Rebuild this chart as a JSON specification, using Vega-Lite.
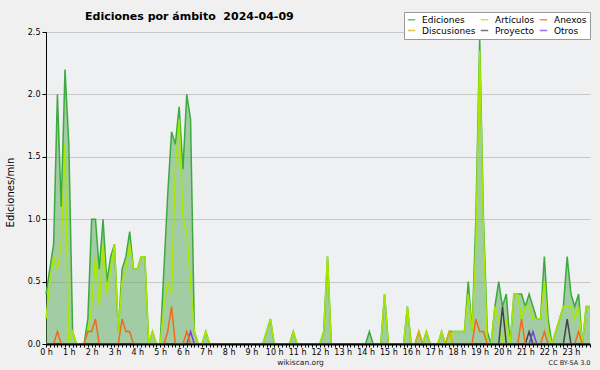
{
"$schema": "https://vega.github.io/schema/vega-lite/v6.json",
"autosize": "none",
"width": 544,
"height": 312,
"padding": {"left": 46, "top": 32, "right": 10, "bottom": 26},
"background": "#F0F0F0",
"config": {"view": {"fill": "#EEF0F2", "stroke": null}, "font": "DejaVu Sans"},
"title": {"text": "Ediciones por ámbito \u00a02024-04-09", "anchor": "start", "frame": "group", "dx": 39, "dy": 12, "offset": -7, "baseline": "alphabetic", "font": "DejaVu Sans", "fontSize": 11, "fontWeight": "bold", "color": "#000000"},
"data": {"values": [
{"m":0,"ed":0.4,"art":0.2,"anx":0,"dis":0,"pro":0,"otr":0},
{"m":10,"ed":0.6,"art":0.5,"anx":0,"dis":0,"pro":0,"otr":0},
{"m":20,"ed":0.8,"art":0.7,"anx":0,"dis":0,"pro":0,"otr":0},
{"m":30,"ed":2.0,"art":0.6,"anx":0.1,"dis":0,"pro":0,"otr":0},
{"m":40,"ed":1.1,"art":0.8,"anx":0,"dis":0,"pro":0,"otr":0},
{"m":50,"ed":2.2,"art":1.6,"anx":0,"dis":0,"pro":0,"otr":0},
{"m":60,"ed":1.6,"art":0,"anx":0,"dis":0,"pro":0,"otr":0},
{"m":70,"ed":0.1,"art":0.1,"anx":0,"dis":0,"pro":0,"otr":0},
{"m":80,"ed":0,"art":0,"anx":0,"dis":0,"pro":0,"otr":0},
{"m":90,"ed":0,"art":0,"anx":0,"dis":0,"pro":0,"otr":0},
{"m":100,"ed":0,"art":0,"anx":0,"dis":0,"pro":0,"otr":0},
{"m":110,"ed":0.2,"art":0.1,"anx":0.1,"dis":0,"pro":0,"otr":0},
{"m":120,"ed":1.0,"art":0.3,"anx":0.1,"dis":0,"pro":0,"otr":0},
{"m":130,"ed":1.0,"art":0.7,"anx":0.2,"dis":0,"pro":0,"otr":0},
{"m":140,"ed":0.6,"art":0.3,"anx":0,"dis":0,"pro":0,"otr":0},
{"m":150,"ed":1.0,"art":0.8,"anx":0,"dis":0,"pro":0,"otr":0},
{"m":160,"ed":0.5,"art":0.4,"anx":0,"dis":0,"pro":0,"otr":0},
{"m":170,"ed":0.7,"art":0.6,"anx":0,"dis":0,"pro":0,"otr":0},
{"m":180,"ed":0.8,"art":0.8,"anx":0,"dis":0,"pro":0,"otr":0},
{"m":190,"ed":0.1,"art":0.1,"anx":0,"dis":0,"pro":0,"otr":0},
{"m":200,"ed":0.6,"art":0.5,"anx":0.2,"dis":0,"pro":0,"otr":0},
{"m":210,"ed":0.7,"art":0.6,"anx":0.1,"dis":0,"pro":0,"otr":0},
{"m":220,"ed":0.9,"art":0.8,"anx":0.1,"dis":0,"pro":0,"otr":0},
{"m":230,"ed":0.6,"art":0.6,"anx":0,"dis":0,"pro":0,"otr":0},
{"m":240,"ed":0.6,"art":0.6,"anx":0,"dis":0,"pro":0,"otr":0},
{"m":250,"ed":0.7,"art":0.7,"anx":0,"dis":0,"pro":0,"otr":0},
{"m":260,"ed":0.7,"art":0.7,"anx":0,"dis":0,"pro":0,"otr":0},
{"m":270,"ed":0,"art":0,"anx":0,"dis":0,"pro":0,"otr":0},
{"m":280,"ed":0.1,"art":0.1,"anx":0,"dis":0,"pro":0,"otr":0},
{"m":290,"ed":0,"art":0,"anx":0,"dis":0,"pro":0,"otr":0},
{"m":300,"ed":0,"art":0,"anx":0,"dis":0,"pro":0,"otr":0},
{"m":310,"ed":0.6,"art":0.3,"anx":0,"dis":0,"pro":0,"otr":0},
{"m":320,"ed":1.2,"art":0.5,"anx":0.1,"dis":0,"pro":0,"otr":0},
{"m":330,"ed":1.7,"art":0.4,"anx":0.3,"dis":0,"pro":0,"otr":0},
{"m":340,"ed":1.6,"art":1.4,"anx":0,"dis":0,"pro":0,"otr":0},
{"m":350,"ed":1.9,"art":1.8,"anx":0,"dis":0,"pro":0,"otr":0},
{"m":360,"ed":1.4,"art":1.0,"anx":0,"dis":0,"pro":0,"otr":0},
{"m":370,"ed":2.0,"art":0.9,"anx":0.1,"dis":0,"pro":0,"otr":0},
{"m":380,"ed":1.8,"art":0.5,"anx":0,"dis":0,"pro":0,"otr":0.1},
{"m":390,"ed":0.1,"art":0.1,"anx":0,"dis":0,"pro":0,"otr":0},
{"m":400,"ed":0,"art":0,"anx":0,"dis":0,"pro":0,"otr":0},
{"m":410,"ed":0,"art":0,"anx":0,"dis":0,"pro":0,"otr":0},
{"m":420,"ed":0.1,"art":0.1,"anx":0,"dis":0,"pro":0,"otr":0},
{"m":430,"ed":0,"art":0,"anx":0,"dis":0,"pro":0,"otr":0},
{"m":440,"ed":0,"art":0,"anx":0,"dis":0,"pro":0,"otr":0},
{"m":450,"ed":0,"art":0,"anx":0,"dis":0,"pro":0,"otr":0},
{"m":460,"ed":0,"art":0,"anx":0,"dis":0,"pro":0,"otr":0},
{"m":470,"ed":0,"art":0,"anx":0,"dis":0,"pro":0,"otr":0},
{"m":480,"ed":0,"art":0,"anx":0,"dis":0,"pro":0,"otr":0},
{"m":490,"ed":0,"art":0,"anx":0,"dis":0,"pro":0,"otr":0},
{"m":500,"ed":0,"art":0,"anx":0,"dis":0,"pro":0,"otr":0},
{"m":510,"ed":0,"art":0,"anx":0,"dis":0,"pro":0,"otr":0},
{"m":520,"ed":0,"art":0,"anx":0,"dis":0,"pro":0,"otr":0},
{"m":530,"ed":0,"art":0,"anx":0,"dis":0,"pro":0,"otr":0},
{"m":540,"ed":0,"art":0,"anx":0,"dis":0,"pro":0,"otr":0},
{"m":550,"ed":0,"art":0,"anx":0,"dis":0,"pro":0,"otr":0},
{"m":560,"ed":0,"art":0,"anx":0,"dis":0,"pro":0,"otr":0},
{"m":570,"ed":0,"art":0,"anx":0,"dis":0,"pro":0,"otr":0},
{"m":580,"ed":0.1,"art":0.1,"anx":0,"dis":0,"pro":0,"otr":0},
{"m":590,"ed":0.2,"art":0.2,"anx":0,"dis":0,"pro":0,"otr":0},
{"m":600,"ed":0,"art":0,"anx":0,"dis":0,"pro":0,"otr":0},
{"m":610,"ed":0,"art":0,"anx":0,"dis":0,"pro":0,"otr":0},
{"m":620,"ed":0,"art":0,"anx":0,"dis":0,"pro":0,"otr":0},
{"m":630,"ed":0,"art":0,"anx":0,"dis":0,"pro":0,"otr":0},
{"m":640,"ed":0,"art":0,"anx":0,"dis":0,"pro":0,"otr":0},
{"m":650,"ed":0.1,"art":0.1,"anx":0,"dis":0,"pro":0,"otr":0},
{"m":660,"ed":0,"art":0,"anx":0,"dis":0,"pro":0,"otr":0},
{"m":670,"ed":0,"art":0,"anx":0,"dis":0,"pro":0,"otr":0},
{"m":680,"ed":0,"art":0,"anx":0,"dis":0,"pro":0,"otr":0},
{"m":690,"ed":0,"art":0,"anx":0,"dis":0,"pro":0,"otr":0},
{"m":700,"ed":0,"art":0,"anx":0,"dis":0,"pro":0,"otr":0},
{"m":710,"ed":0,"art":0,"anx":0,"dis":0,"pro":0,"otr":0},
{"m":720,"ed":0,"art":0,"anx":0,"dis":0,"pro":0,"otr":0},
{"m":730,"ed":0.1,"art":0.1,"anx":0,"dis":0,"pro":0,"otr":0},
{"m":740,"ed":0.7,"art":0.7,"anx":0,"dis":0,"pro":0,"otr":0},
{"m":750,"ed":0,"art":0,"anx":0,"dis":0,"pro":0,"otr":0},
{"m":760,"ed":0,"art":0,"anx":0,"dis":0,"pro":0,"otr":0},
{"m":770,"ed":0,"art":0,"anx":0,"dis":0,"pro":0,"otr":0},
{"m":780,"ed":0,"art":0,"anx":0,"dis":0,"pro":0,"otr":0},
{"m":790,"ed":0,"art":0,"anx":0,"dis":0,"pro":0,"otr":0},
{"m":800,"ed":0,"art":0,"anx":0,"dis":0,"pro":0,"otr":0},
{"m":810,"ed":0,"art":0,"anx":0,"dis":0,"pro":0,"otr":0},
{"m":820,"ed":0,"art":0,"anx":0,"dis":0,"pro":0,"otr":0},
{"m":830,"ed":0,"art":0,"anx":0,"dis":0,"pro":0,"otr":0},
{"m":840,"ed":0,"art":0,"anx":0,"dis":0,"pro":0,"otr":0},
{"m":850,"ed":0.1,"art":0,"anx":0,"dis":0,"pro":0,"otr":0},
{"m":860,"ed":0,"art":0,"anx":0,"dis":0,"pro":0,"otr":0},
{"m":870,"ed":0,"art":0,"anx":0,"dis":0,"pro":0,"otr":0},
{"m":880,"ed":0,"art":0,"anx":0,"dis":0,"pro":0,"otr":0},
{"m":890,"ed":0.4,"art":0.4,"anx":0,"dis":0,"pro":0,"otr":0},
{"m":900,"ed":0,"art":0,"anx":0,"dis":0,"pro":0,"otr":0},
{"m":910,"ed":0,"art":0,"anx":0,"dis":0,"pro":0,"otr":0},
{"m":920,"ed":0,"art":0,"anx":0,"dis":0,"pro":0,"otr":0},
{"m":930,"ed":0,"art":0,"anx":0,"dis":0,"pro":0,"otr":0},
{"m":940,"ed":0,"art":0,"anx":0,"dis":0,"pro":0,"otr":0},
{"m":950,"ed":0.3,"art":0.3,"anx":0,"dis":0,"pro":0,"otr":0},
{"m":960,"ed":0,"art":0,"anx":0,"dis":0,"pro":0,"otr":0},
{"m":970,"ed":0,"art":0,"anx":0,"dis":0,"pro":0,"otr":0},
{"m":980,"ed":0.1,"art":0,"anx":0,"dis":0.1,"pro":0,"otr":0},
{"m":990,"ed":0,"art":0,"anx":0,"dis":0,"pro":0,"otr":0},
{"m":1000,"ed":0.1,"art":0.1,"anx":0,"dis":0,"pro":0,"otr":0},
{"m":1010,"ed":0,"art":0,"anx":0,"dis":0,"pro":0,"otr":0},
{"m":1020,"ed":0,"art":0,"anx":0,"dis":0,"pro":0,"otr":0},
{"m":1030,"ed":0,"art":0,"anx":0,"dis":0,"pro":0,"otr":0},
{"m":1040,"ed":0.1,"art":0.1,"anx":0,"dis":0,"pro":0,"otr":0},
{"m":1050,"ed":0,"art":0,"anx":0,"dis":0,"pro":0,"otr":0},
{"m":1060,"ed":0.1,"art":0,"anx":0,"dis":0.1,"pro":0,"otr":0},
{"m":1070,"ed":0.1,"art":0.1,"anx":0,"dis":0,"pro":0,"otr":0},
{"m":1080,"ed":0.1,"art":0.1,"anx":0,"dis":0,"pro":0,"otr":0},
{"m":1090,"ed":0.1,"art":0.1,"anx":0,"dis":0,"pro":0,"otr":0},
{"m":1100,"ed":0.1,"art":0.1,"anx":0,"dis":0,"pro":0,"otr":0},
{"m":1110,"ed":0.5,"art":0.4,"anx":0,"dis":0,"pro":0,"otr":0},
{"m":1120,"ed":0.1,"art":0.1,"anx":0,"dis":0,"pro":0,"otr":0},
{"m":1130,"ed":1.0,"art":0.8,"anx":0.2,"dis":0,"pro":0,"otr":0},
{"m":1140,"ed":2.45,"art":2.35,"anx":0.1,"dis":0,"pro":0,"otr":0},
{"m":1150,"ed":1.0,"art":0.9,"anx":0.1,"dis":0,"pro":0,"otr":0},
{"m":1160,"ed":0.1,"art":0,"anx":0,"dis":0,"pro":0,"otr":0},
{"m":1170,"ed":0,"art":0,"anx":0,"dis":0,"pro":0,"otr":0},
{"m":1180,"ed":0.3,"art":0.3,"anx":0,"dis":0,"pro":0,"otr":0},
{"m":1190,"ed":0.5,"art":0.2,"anx":0,"dis":0,"pro":0,"otr":0},
{"m":1200,"ed":0.3,"art":0,"anx":0,"dis":0,"pro":0.3,"otr":0},
{"m":1210,"ed":0.4,"art":0.2,"anx":0,"dis":0,"pro":0,"otr":0},
{"m":1220,"ed":0,"art":0,"anx":0,"dis":0,"pro":0,"otr":0},
{"m":1230,"ed":0.4,"art":0.4,"anx":0,"dis":0,"pro":0,"otr":0},
{"m":1240,"ed":0.4,"art":0.4,"anx":0,"dis":0,"pro":0,"otr":0},
{"m":1250,"ed":0.4,"art":0.2,"anx":0.2,"dis":0,"pro":0,"otr":0},
{"m":1260,"ed":0.3,"art":0.3,"anx":0,"dis":0,"pro":0,"otr":0},
{"m":1270,"ed":0.4,"art":0.3,"anx":0,"dis":0,"pro":0.1,"otr":0},
{"m":1280,"ed":0.3,"art":0.2,"anx":0,"dis":0,"pro":0,"otr":0.1},
{"m":1290,"ed":0.2,"art":0.2,"anx":0,"dis":0,"pro":0,"otr":0},
{"m":1300,"ed":0.2,"art":0.2,"anx":0,"dis":0,"pro":0,"otr":0},
{"m":1310,"ed":0.7,"art":0.5,"anx":0.1,"dis":0,"pro":0,"otr":0},
{"m":1320,"ed":0.2,"art":0.1,"anx":0,"dis":0,"pro":0,"otr":0},
{"m":1330,"ed":0,"art":0,"anx":0,"dis":0,"pro":0,"otr":0},
{"m":1340,"ed":0.1,"art":0.1,"anx":0,"dis":0,"pro":0,"otr":0},
{"m":1350,"ed":0.2,"art":0.2,"anx":0,"dis":0,"pro":0,"otr":0},
{"m":1360,"ed":0.3,"art":0.3,"anx":0,"dis":0,"pro":0,"otr":0},
{"m":1370,"ed":0.7,"art":0.3,"anx":0,"dis":0,"pro":0.2,"otr":0},
{"m":1380,"ed":0.4,"art":0.3,"anx":0,"dis":0,"pro":0,"otr":0},
{"m":1390,"ed":0.3,"art":0.2,"anx":0,"dis":0,"pro":0,"otr":0},
{"m":1400,"ed":0.4,"art":0.3,"anx":0.1,"dis":0,"pro":0,"otr":0},
{"m":1410,"ed":0,"art":0,"anx":0,"dis":0,"pro":0,"otr":0},
{"m":1420,"ed":0.3,"art":0.3,"anx":0,"dis":0,"pro":0,"otr":0},
{"m":1430,"ed":0.3,"art":0.3,"anx":0,"dis":0,"pro":0,"otr":0}
]},
"resolve": {"axis": {"x": "independent"}},
"layer": [
{"mark": {"type": "area", "color": "#55AA55", "opacity": 0.5},
 "encoding": {
  "x": {"field": "m", "type": "quantitative", "scale": {"domain": [0, 1430], "nice": false, "zero": false},
   "axis": {"orient": "bottom", "values": [0,10,20,30,40,50,60,70,80,90,100,110,120,130,140,150,160,170,180,190,200,210,220,230,240,250,260,270,280,290,300,310,320,330,340,350,360,370,380,390,400,410,420,430,440,450,460,470,480,490,500,510,520,530,540,550,560,570,580,590,600,610,620,630,640,650,660,670,680,690,700,710,720,730,740,750,760,770,780,790,800,810,820,830,840,850,860,870,880,890,900,910,920,930,940,950,960,970,980,990,1000,1010,1020,1030,1040,1050,1060,1070,1080,1090,1100,1110,1120,1130,1140,1150,1160,1170,1180,1190,1200,1210,1220,1230,1240,1250,1260,1270,1280,1290,1300,1310,1320,1330,1340,1350,1360,1370,1380,1390,1400,1410,1420,1430],
    "labelExpr": "datum.value % 60 == 0 ? (datum.value / 60) + ' h' : ''", "labelOverlap": false, "labelFlush": false,
    "labelFont": "DejaVu Sans", "labelFontSize": 8, "labelColor": "#000000", "labelPadding": 1,
    "tickSize": 3, "tickColor": "#000000", "domainColor": "#000000", "domainWidth": 2, "grid": false, "zindex": 1,
    "title": "wikiscan.org", "titleFont": "DejaVu Sans", "titleFontSize": 7.5, "titleFontWeight": "normal", "titleColor": "#222222",
    "titleX": 254, "titleY": 20, "titleAlign": "center", "titleBaseline": "alphabetic"}},
  "y": {"field": "ed", "type": "quantitative", "title": "Ediciones/min", "scale": {"domain": [0, 2.5], "nice": false},
   "axis": {"values": [0,0.125,0.25,0.375,0.5,0.625,0.75,0.875,1,1.125,1.25,1.375,1.5,1.625,1.75,1.875,2,2.125,2.25,2.375,2.5],
    "labelExpr": "datum.value % 0.5 == 0 ? format(datum.value, '.1f') : ''", "labelOverlap": false, "labelFlush": false,
    "labelFont": "DejaVu Sans", "labelFontSize": 8, "labelColor": "#000000", "labelPadding": 2,
    "tickSize": 4, "tickColor": "#000000", "domainColor": "#000000", "domainWidth": 1,
    "grid": true, "gridColor": "#C8C8C8", "gridOpacity": {"condition": {"test": "datum.value % 0.5 == 0", "value": 1}, "value": 0},
    "titleFont": "DejaVu Sans", "titleFontSize": 10, "titleFontWeight": "normal", "titleColor": "#000000",
    "titleX": -33, "titleY": 160, "titleAlign": "center", "titleBaseline": "alphabetic"}}
 }},
{"mark": {"type": "line", "strokeWidth": 1.5},
 "encoding": {
  "x": {"field": "m", "type": "quantitative", "axis": {"orient": "bottom", "domain": false, "ticks": false, "labels": false, "grid": false,
    "title": "CC BY-SA 3.0", "titleFont": "DejaVu Sans", "titleFontSize": 6.5, "titleFontWeight": "normal", "titleColor": "#222222",
    "titleX": 544, "titleY": 20, "titleAlign": "right", "titleBaseline": "alphabetic"}},
  "y": {"field": "ed", "type": "quantitative", "title": "Ediciones/min"},
  "color": {"datum": "Ediciones", "type": "nominal",
   "scale": {"domain": ["Ediciones", "Artículos", "Anexos", "Discusiones", "Proyecto", "Otros"], "range": ["#3DAA3D", "#A8E800", "#F26A1B", "#E0B000", "#444444", "#7B3FE4"]},
   "legend": {"orient": "none", "direction": "horizontal", "legendX": 358, "legendY": -20, "columns": 3, "title": null, "symbolType": "stroke", "symbolSize": 56, "symbolStrokeWidth": 1.5, "symbolOpacity": 0.75,
    "labelFont": "DejaVu Sans", "labelFontSize": 9, "labelColor": "#000000", "labelOffset": 6, "fillColor": "#FFFFFF", "strokeColor": "#999999", "padding": 3, "rowPadding": 1, "columnPadding": 1}}
 }},
{"mark": {"type": "line", "strokeWidth": 1.5},
 "encoding": {"x": {"field": "m", "type": "quantitative", "axis": null}, "y": {"field": "art", "type": "quantitative", "title": "Ediciones/min"}, "color": {"datum": "Artículos", "type": "nominal"}}},
{"mark": {"type": "line", "strokeWidth": 1.5},
 "encoding": {"x": {"field": "m", "type": "quantitative", "axis": null}, "y": {"field": "dis", "type": "quantitative", "title": "Ediciones/min"}, "color": {"datum": "Discusiones", "type": "nominal"}}},
{"mark": {"type": "line", "strokeWidth": 1.5},
 "encoding": {"x": {"field": "m", "type": "quantitative", "axis": null}, "y": {"field": "pro", "type": "quantitative", "title": "Ediciones/min"}, "color": {"datum": "Proyecto", "type": "nominal"}}},
{"mark": {"type": "line", "strokeWidth": 1.5},
 "encoding": {"x": {"field": "m", "type": "quantitative", "axis": null}, "y": {"field": "otr", "type": "quantitative", "title": "Ediciones/min"}, "color": {"datum": "Otros", "type": "nominal"}}},
{"mark": {"type": "line", "strokeWidth": 1.5},
 "encoding": {"x": {"field": "m", "type": "quantitative", "axis": null}, "y": {"field": "anx", "type": "quantitative", "title": "Ediciones/min"}, "color": {"datum": "Anexos", "type": "nominal"}}}
]
}
